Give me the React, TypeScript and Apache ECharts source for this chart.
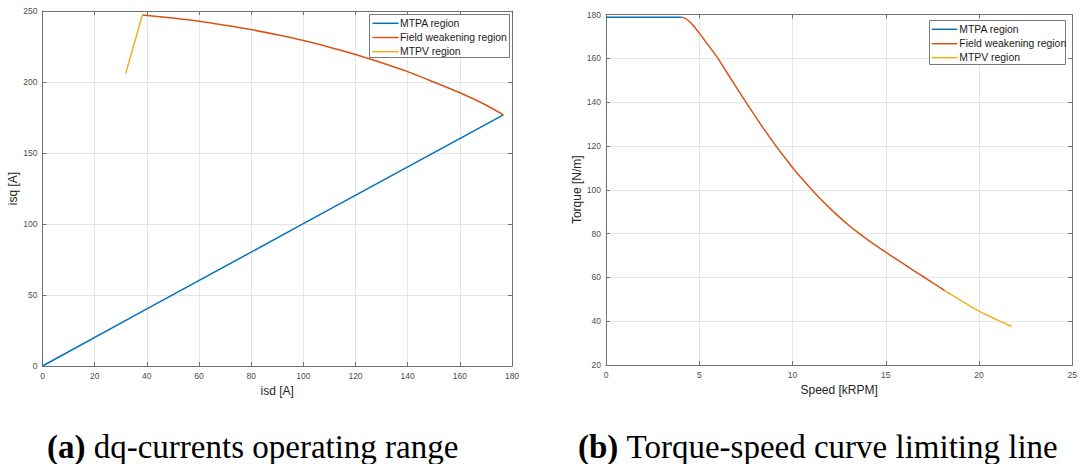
import React, { useEffect, useRef } from "react";
import * as echarts from "echarts";

// ---------- data (a) dq-currents ----------
const isdTicks = [0, 20, 40, 60, 80, 100, 120, 140, 160, 180];
const isqTicks = [0, 50, 100, 150, 200, 250];
const mtpaIsd = [0, 40, 100, 176.7];
const mtpaIsq = [0, 40.2, 100.2, 176.8];
const fwIsd = [176.7, 170, 160, 150, 140, 130, 120, 110, 100, 90, 80, 70, 60, 50, 38.3];
const fwIsq = [176.8, 183.8, 192.4, 200.0, 207.3, 213.6, 219.4, 224.5, 229.2, 233.2, 236.9, 240.0, 242.8, 245.0, 247.2];
const mtpvIsd = [38.3, 31.9];
const mtpvIsq = [247.2, 206.1];

// ---------- data (b) torque-speed ----------
const speedTicks = [0, 5, 10, 15, 20, 25];
const torqueTicks = [20, 40, 60, 80, 100, 120, 140, 160, 180];
const mtpaSpeed = [0, 4.06];
const mtpaTorque = [178.8, 178.8];
const fwSpeed = [4.06, 4.25, 4.5, 4.75, 5.0, 5.5, 6.0, 6.5, 7.0, 7.5, 8.0, 8.5, 9.0, 9.5, 10.0, 10.5, 11.0, 11.5, 12.0, 12.5, 13.0, 13.5, 14.0, 14.5, 15.0, 15.5, 16.0, 16.5, 17.0, 17.5, 18.0, 18.16];
const fwTorque = [178.8, 178.2, 176.6, 174.2, 171.5, 165.8, 160.0, 153.3, 146.6, 140.0, 133.6, 127.3, 121.3, 115.6, 110.2, 105.1, 100.3, 95.8, 91.6, 87.6, 83.9, 80.5, 77.3, 74.4, 71.5, 68.7, 65.9, 63.1, 60.4, 57.6, 54.9, 54.0];
const mtpvSpeed = [18.16, 18.5, 19, 19.5, 20, 20.5, 21, 21.75];
const mtpvTorque = [54.0, 52.2, 49.6, 47.0, 44.6, 42.5, 40.5, 37.6];

const legendNames = ["MTPA region", "Field weakening region", "MTPV region"];
const colors = ["#0072BD", "#D95319", "#EDB120"];
const captionA = ["(a)", "dq-currents operating range"];
const captionB = ["(b)", "Torque-speed curve limiting line"];

const sans = "'Liberation Sans', Arial, Helvetica, sans-serif";
const serif = "'Liberation Serif', 'Times New Roman', Times, serif";

const zip = (xs: number[], ys: number[]) => xs.map((x, i) => [x, ys[i]]);

function mainAxis(gridIndex: number, ticks: number[], name: string, nameGap: number, position: string) {
  return {
    type: "value",
    gridIndex,
    position,
    min: ticks[0],
    max: ticks[ticks.length - 1],
    interval: ticks[1] - ticks[0],
    name,
    nameLocation: "middle",
    nameGap,
    nameTextStyle: { fontSize: 12, color: "#262626", fontFamily: sans },
    axisLine: { show: true, onZero: false, lineStyle: { color: "#707070", width: 1 } },
    axisTick: { show: true, inside: true, length: 4, lineStyle: { color: "#707070", width: 1 } },
    splitLine: { show: true, lineStyle: { color: "#e6e6e6", width: 1 } },
    axisLabel: { fontSize: 8.5, color: "#4d4d4d", fontFamily: sans, margin: 5, showMinLabel: true, showMaxLabel: true },
  };
}

function boxAxis(gridIndex: number, ticks: number[], position: string) {
  return {
    type: "value",
    gridIndex,
    position,
    min: ticks[0],
    max: ticks[ticks.length - 1],
    interval: ticks[1] - ticks[0],
    axisLine: { show: true, onZero: false, lineStyle: { color: "#707070", width: 1 } },
    axisTick: { show: true, inside: true, length: 4, lineStyle: { color: "#707070", width: 1 } },
    splitLine: { show: false },
    axisLabel: { show: false },
  };
}

function lineSeries(name: string, color: string, data: number[][], xi: number, yi: number, smooth: any) {
  return {
    type: "line",
    name,
    data,
    xAxisIndex: xi,
    yAxisIndex: yi,
    symbol: "none",
    smooth,
    lineStyle: { color, width: 1.5 },
    itemStyle: { color },
    z: 3,
  };
}

function legendBox(x: number, y: number, w: number, h: number, lx1: number, lx2: number, tx: number, rows: number[]) {
  const children: any[] = [
    { type: "rect", z: 100, shape: { x, y, width: w, height: h }, style: { fill: "#ffffff", stroke: "#7a7a7a", lineWidth: 1 } },
  ];
  legendNames.forEach((n, i) => {
    children.push({
      type: "line",
      z: 101,
      shape: { x1: lx1, y1: rows[i], x2: lx2, y2: rows[i] },
      style: { stroke: colors[i], lineWidth: 1.5 },
    });
    children.push({
      type: "text",
      z: 101,
      x: tx,
      y: rows[i],
      style: { text: n, fontSize: 10.4, fontFamily: sans, fill: "#1a1a1a", align: "left", verticalAlign: "middle" },
    });
  });
  return { type: "group", z: 100, children };
}

function caption(x: number, y: number, parts: string[]) {
  return {
    type: "text",
    x,
    y,
    z: 100,
    style: {
      text: `{b|${parts[0]}} {n|${parts[1]}}`,
      align: "left",
      verticalAlign: "middle",
      fontSize: 33,
      fontFamily: serif,
      fill: "#000",
      rich: {
        b: { fontSize: 33, fontFamily: serif, fontWeight: "bold", fill: "#000" },
        n: { fontSize: 33, fontFamily: serif, fill: "#000" },
      },
    },
  };
}

export default function App() {
  const ref = useRef<HTMLDivElement>(null);
  useEffect(() => {
    if (!ref.current) return;
    const chart = echarts.init(ref.current, null, { renderer: "svg" });
    const option: any = {
      animation: false,
      backgroundColor: "#ffffff",
      grid: [
        { left: 42.5, top: 11, width: 469.5, height: 355 },
        { left: 606, top: 14.5, width: 468.5, height: 350.5 },
      ],
      xAxis: [
        mainAxis(0, isdTicks, "isd [A]", 18, "bottom"),
        boxAxis(0, isdTicks, "top"),
        mainAxis(1, speedTicks, "Speed [kRPM]", 17, "bottom"),
        boxAxis(1, speedTicks, "top"),
      ],
      yAxis: [
        mainAxis(0, isqTicks, "isq [A]", 21, "left"),
        boxAxis(0, isqTicks, "right"),
        mainAxis(1, torqueTicks, "Torque [N/m]", 22, "left"),
        boxAxis(1, torqueTicks, "right"),
      ],
      series: [
        lineSeries(legendNames[0], colors[0], zip(mtpaIsd, mtpaIsq), 0, 0, false),
        lineSeries(legendNames[1], colors[1], zip(fwIsd, fwIsq), 0, 0, 0.3),
        lineSeries(legendNames[2], colors[2], zip(mtpvIsd, mtpvIsq), 0, 0, false),
        lineSeries(legendNames[0], colors[0], zip(mtpaSpeed, mtpaTorque), 2, 2, false),
        lineSeries(legendNames[1], colors[1], zip(fwSpeed, fwTorque), 2, 2, 0.3),
        lineSeries(legendNames[2], colors[2], zip(mtpvSpeed, mtpvTorque), 2, 2, 0.3),
      ],
      graphic: [
        legendBox(369.5, 14.5, 140, 43, 372.5, 398.5, 400, [23.3, 37.5, 51.7]),
        legendBox(929.5, 20.5, 136, 44, 931.7, 957.3, 959.3, [29.3, 43.7, 57.7]),
        caption(47, 447, captionA),
        caption(578, 447, captionB),
      ],
    };
    chart.setOption(option);
    return () => chart.dispose();
  }, []);
  return (
    <div
      ref={ref}
      style={{ position: "fixed", left: 0, top: 0, width: 1080, height: 464, background: "#fff" }}
    />
  );
}
